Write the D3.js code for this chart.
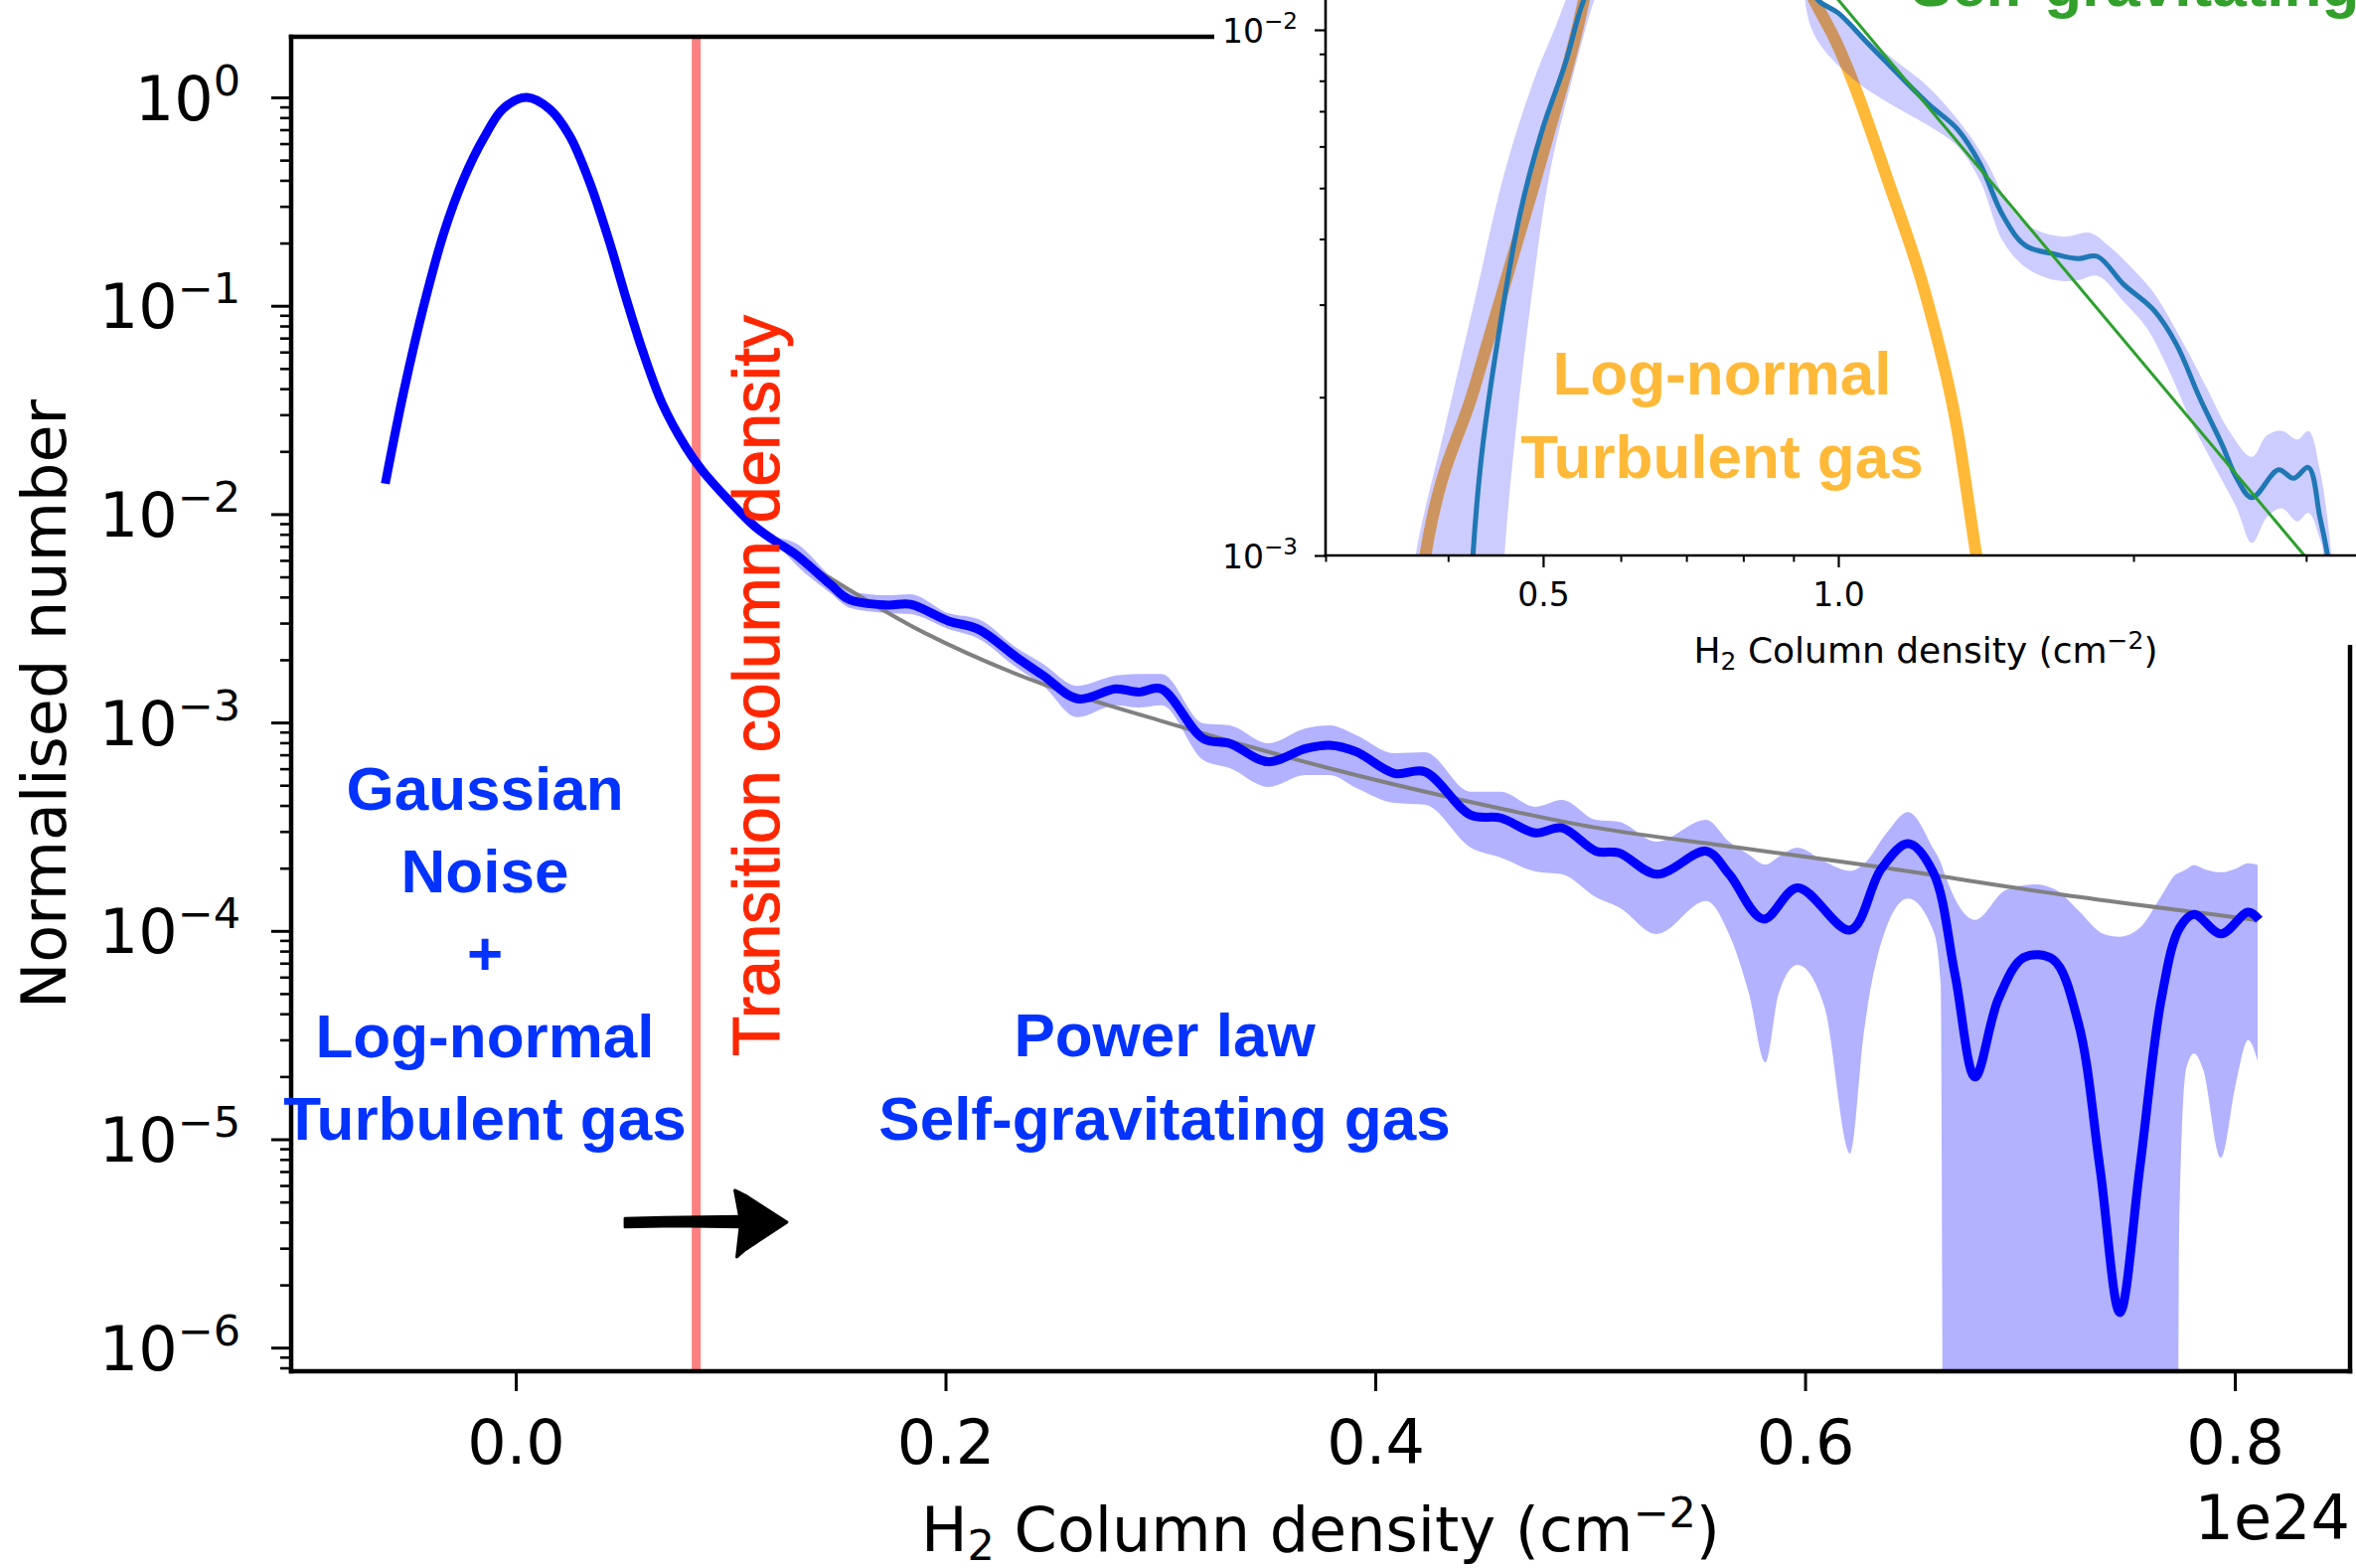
<!DOCTYPE html>
<html><head><meta charset="utf-8">
<script src="https://cdn.jsdelivr.net/npm/d3@7"></script>
<style>body{margin:0;background:#fff}svg{display:block} text{white-space:pre}</style>
</head><body>
<script>
// ---------------- MAIN PANEL DATA (x in units of 1e24 cm^-2) ----------------
const mainX = [-0.0607,-0.0519,-0.0427,-0.0334,-0.0242,-0.0149,-0.0057,0.0051,0.0159,0.0251,0.0344,0.0436,0.0513,0.0591,0.0683,0.0791,0.0868,0.0991,0.1114,0.1199,0.1305,0.1465,0.1553,0.1730,0.1836,0.2013,0.2154,0.2332,0.2455,0.2615,0.2792,0.2898,0.3004,0.3199,0.3323,0.3500,0.3676,0.3789,0.3912,0.4089,0.4231,0.4443,0.4585,0.4744,0.4868,0.5028,0.5133,0.5311,0.5540,0.5647,0.5806,0.5965,0.6210,0.6354,0.6480,0.6597,0.6698,0.6791,0.6900,0.7018,0.7153,0.7271,0.7372,0.7465,0.7558,0.7658,0.7742,0.7810,0.7936,0.8062,0.8113];
const mainY = [0.0140,0.0396,0.1008,0.2246,0.4064,0.6373,0.886,1.0,0.877,0.654,0.392,0.203,0.109,0.0606,0.0337,0.0210,0.0162,0.01167,0.00871,0.00752,0.00638,0.00459,0.00389,0.00366,0.00369,0.00307,0.00280,0.00205,0.00168,0.00130,0.00145,0.00140,0.00145,0.000837,0.000793,0.000648,0.000750,0.000778,0.000723,0.000570,0.000580,0.000360,0.000348,0.000295,0.000312,0.000241,0.000237,0.000187,0.000241,0.000187,0.000114,0.000161,0.000101,0.000198,0.000262,0.000190,6.14e-5,1.99e-5,4.72e-5,7.45e-5,7.30e-5,3.64e-5,7.31e-6,1.47e-6,7.31e-6,4.72e-5,0.000103,0.000120,9.68e-5,0.000123,0.000113];

const bandX  = [0.1207,0.1304,0.1465,0.1554,0.1729,0.1836,0.2012,0.2155,0.2331,0.2455,0.2613,0.2793,0.2899,0.3006,0.3200,0.3323,0.3501,0.3676,0.3787,0.3912,0.4088,0.4231,0.4444,0.4583,0.4745,0.4869,0.5027,0.5133,0.5309,0.5540,0.5646,0.5739,0.5815,0.5877,0.5965,0.6090,0.6210,0.6275,0.6377,0.6479,0.6599,0.6631,0.6650,0.6791,0.6934,0.7069,0.7170,0.7269,0.7390,0.7464,0.7556,0.7658,0.7727,0.7741,0.7773,0.7810,0.7852,0.7935,0.8005,0.8062,0.8106];
const bandHi = [7.72e-3,7.25e-3,5.03e-3,4.27e-3,4.08e-3,4.13e-3,3.35e-3,3.13e-3,2.28e-3,1.91e-3,1.50e-3,1.68e-3,1.71e-3,1.71e-3,9.90e-4,9.68e-4,7.95e-4,9.37e-4,9.68e-4,8.69e-4,7.13e-4,7.20e-4,4.65e-4,4.65e-4,3.94e-4,4.25e-4,3.41e-4,3.34e-4,2.68e-4,3.41e-4,2.68e-4,2.32e-4,2.08e-4,2.27e-4,2.51e-4,2.15e-4,1.94e-4,2.10e-4,2.93e-4,3.72e-4,2.46e-4,2.13e-4,1.87e-4,1.13e-4,1.57e-4,1.67e-4,1.57e-4,1.26e-4,9.66e-5,9.38e-5,1.03e-4,1.47e-4,1.87e-4,1.90e-4,1.97e-4,2.07e-4,1.99e-4,1.91e-4,1.99e-4,2.11e-4,2.07e-4];
const bandLo = [7.39e-3,5.72e-3,4.17e-3,3.55e-3,3.35e-3,3.31e-3,2.81e-3,2.52e-3,1.83e-3,1.50e-3,1.06e-3,1.21e-3,1.18e-3,1.21e-3,6.60e-4,6.04e-4,4.91e-4,5.60e-4,5.60e-4,4.85e-4,4.11e-4,4.03e-4,2.51e-4,2.25e-4,1.93e-4,1.87e-4,1.45e-4,1.30e-4,9.66e-5,1.39e-4,9.66e-5,5.00e-5,2.34e-5,5.00e-5,6.87e-5,4.33e-5,8.53e-6,3.33e-5,1.03e-4,1.43e-4,9.87e-5,5.57e-5,1e-9,1e-9,1e-9,1e-9,1e-9,1e-9,1e-9,1e-9,1e-9,1e-9,1e-9,3.83e-6,2.17e-5,2.58e-5,2.17e-5,8.16e-6,1.86e-5,2.99e-5,2.37e-5];

const fitX = [0.1305,0.1447,0.19,0.2437,0.30,0.3783,0.44,0.5027,0.57,0.6354,0.72,0.8097];
const fitY = [6.2e-3,5.04e-3,2.70e-3,1.55e-3,1.02e-3,6.04e-4,4.25e-4,3.13e-4,2.50e-4,2.02e-4,1.49e-4,1.13e-4];

const transitionX = 0.084;
const xTickValues = [0, 0.2, 0.4, 0.6, 0.8];
const yTickExponents = [0, -1, -2, -3, -4, -5, -6];

// ---------------- INSET DATA (log-log) ----------------
const insetBlueX = [0.4217,0.4240,0.4331,0.4487,0.4732,0.4992,0.5263,0.5502,0.5711,0.62,0.85,0.9216,0.9530,1.0,1.080,1.233,1.323,1.395,1.472,1.552,1.665,1.757,1.837,1.954,2.098,2.213,2.333,2.460,2.549,2.641,2.811,2.912,3.016,3.098,3.154,3.18];
const insetBlueY = [0.0008,0.000998,0.001570,0.002518,0.004434,0.006468,0.008586,0.0114,0.01298,0.03,0.03,0.01298,0.0114,0.01076,0.00929,0.00725,0.00647,0.00556,0.00443,0.003886,0.003741,0.003671,0.003707,0.003279,0.002928,0.002518,0.002007,0.001631,0.001402,0.001288,0.001456,0.001402,0.001470,0.001183,0.001,0.000837];

const insetOrangeX = [0.3735,0.3792,0.4255,0.4651,0.5080,0.5502,0.60,0.75,0.9447,0.9963,1.128,1.233,1.323,1.383,1.40];
const insetOrangeY = [0.000837,0.001,0.002084,0.00367,0.00647,0.0114,0.03,0.03,0.01140,0.00943,0.00506,0.00304,0.001726,0.001,0.00087];

const insetGreenX = [0.9434, 3.288];
const insetGreenY = [0.01298, 0.000808];

const insetBandUpperX = [0.355,0.3706,0.3963,0.4255,0.4567,0.4902,0.5172,0.5387,0.58,0.88,0.9324,0.9616,1.128,1.233,1.347,1.420,1.497,1.579,1.696,1.804,1.886,1.989,2.098,2.252,2.375,2.504,2.641,2.736,2.835,2.938,3.016,3.098,3.183,3.25];
const insetBandUpperY = [0.0005,0.001,0.001725,0.00304,0.005355,0.00811,0.01037,0.01298,0.03,0.03,0.01298,0.01140,0.00891,0.00781,0.00647,0.00556,0.00460,0.00419,0.00404,0.00411,0.003886,0.003535,0.003158,0.002518,0.002084,0.001725,0.00154,0.001693,0.001725,0.001662,0.001725,0.001456,0.001,0.0005];
const insetBandLowerX = [0.450,0.4567,0.4690,0.4859,0.5080,0.5358,0.5601,0.5779,0.62,0.85,0.9150,0.9447,1.032,1.128,1.233,1.323,1.395,1.472,1.552,1.665,1.757,1.837,1.954,2.061,2.174,2.292,2.416,2.549,2.641,2.736,2.835,2.938,3.016,3.098,3.126,3.18];
const insetBandLowerY = [0.0005,0.001,0.001725,0.00304,0.005355,0.00811,0.01097,0.01298,0.03,0.03,0.01298,0.00980,0.00811,0.00724,0.00659,0.0060,0.00516,0.00396,0.003535,0.00334,0.00334,0.003404,0.00304,0.002714,0.002247,0.001792,0.001484,0.001229,0.001056,0.001183,0.001229,0.001161,0.001206,0.001076,0.001,0.0005];

const insetXMajor = [0.5, 1.0];
const insetXMinor = [0.3,0.4,0.6,0.7,0.8,0.9,2,3];
const insetYExponents = [-2, -3];

// ---------------- DRAWING ----------------
const W = 2371, H = 1578;
const P = {left: 293, right: 2365, top: 37, bottom: 1380};
const AX_FONT = "'DejaVu Sans', sans-serif";
const ANN_FONT = "'Liberation Sans', Arial, Helvetica, sans-serif";
const sup = e => (e < 0 ? '\u2212' + (-e) : String(e));

const svg = d3.select('body').append('svg').attr('width', W).attr('height', H);
svg.append('rect').attr('width', W).attr('height', H).attr('fill', '#fff');
const defs = svg.append('defs');
defs.append('clipPath').attr('id', 'mainClip').append('rect')
  .attr('x', P.left).attr('y', P.top).attr('width', P.right - P.left).attr('height', P.bottom - P.top);

const x = d3.scaleLinear().domain([-0.1045, 0.8536]).range([P.left, P.right]);
const y = d3.scaleLog().domain([7.7e-7, 1.954]).range([P.bottom, P.top]);

const main = svg.append('g').attr('clip-path', 'url(#mainClip)');

// transition line
main.append('line')
  .attr('x1', x(transitionX)).attr('x2', x(transitionX))
  .attr('y1', P.top).attr('y2', P.bottom)
  .attr('stroke', '#ff8080').attr('stroke-width', 9);

// band
const bandData = bandX.map((v, i) => ({x: v, lo: bandLo[i], hi: bandHi[i]}));
main.append('path').datum(bandData)
  .attr('d', d3.area().curve(d3.curveMonotoneX)
    .x(d => x(d.x)).y0(d => y(d.lo)).y1(d => y(d.hi)))
  .attr('fill', '#0000ff').attr('fill-opacity', 0.3);

// power-law fit
main.append('path').datum(fitX.map((v, i) => [v, fitY[i]]))
  .attr('d', d3.line().curve(d3.curveCatmullRom.alpha(0.5)).x(d => x(d[0])).y(d => y(d[1])))
  .attr('fill', 'none').attr('stroke', '#808080').attr('stroke-width', 4);

// main curve
main.append('path').datum(mainX.map((v, i) => [v, mainY[i]]))
  .attr('d', d3.line().curve(d3.curveCatmullRom.alpha(0.5)).x(d => x(d[0])).y(d => y(d[1])))
  .attr('fill', 'none').attr('stroke', '#0000ff').attr('stroke-width', 9)
  .attr('stroke-linejoin', 'round');

// ---- main axes ----
const yMajor = yTickExponents.map(e => Math.pow(10, e));
const yMinor = [];
for (let e = -7; e <= 0; e++) for (let m = 2; m <= 9; m++) {
  const v = m * Math.pow(10, e);
  if (v >= 7.7e-7 && v <= 1.954) yMinor.push(v);
}
const gyMinor = svg.append('g').attr('transform', `translate(${P.left},0)`)
  .call(d3.axisLeft(y).tickValues(yMinor).tickSize(11).tickFormat(''));
gyMinor.select('.domain').remove();
gyMinor.selectAll('.tick line').attr('stroke', '#000').attr('stroke-width', 2.6);

const gy = svg.append('g').attr('transform', `translate(${P.left},0)`)
  .call(d3.axisLeft(y).tickValues(yMajor).tickSize(20).tickPadding(31).tickFormat(''));
gy.select('.domain').remove();
gy.attr('font-family', AX_FONT).attr('font-size', 62);
gy.selectAll('.tick line').attr('stroke', '#000').attr('stroke-width', 3);
gy.selectAll('.tick text').each(function(d) {
  const t = d3.select(this).attr('dy', 22).attr('fill', '#000');
  t.text(null);
  t.append('tspan').text('10');
  t.append('tspan').attr('font-size', 43).attr('dy', -25).text(sup(Math.round(Math.log10(d))));
});

const gx = svg.append('g').attr('transform', `translate(0,${P.bottom})`)
  .call(d3.axisBottom(x).tickValues(xTickValues).tickSize(20).tickPadding(29).tickFormat(d3.format('.1f')));
gx.select('.domain').remove();
gx.attr('font-family', AX_FONT).attr('font-size', 62);
gx.selectAll('.tick line').attr('stroke', '#000').attr('stroke-width', 3);
gx.selectAll('.tick text').attr('fill', '#000');

// spines
const spines = svg.append('g').attr('stroke', '#000').attr('stroke-width', 4.5).attr('stroke-linecap', 'square');
spines.append('line').attr('x1', P.left).attr('x2', P.left).attr('y1', P.top).attr('y2', P.bottom);
spines.append('line').attr('x1', P.left).attr('x2', P.right).attr('y1', P.bottom).attr('y2', P.bottom);
spines.append('line').attr('x1', P.left).attr('x2', P.right).attr('y1', P.top).attr('y2', P.top);
spines.append('line').attr('x1', P.right).attr('x2', P.right).attr('y1', P.top).attr('y2', P.bottom);

// axis labels
svg.append('text').attr('transform', `translate(66,${(P.top + P.bottom) / 2}) rotate(-90)`)
  .attr('text-anchor', 'middle').attr('font-family', AX_FONT).attr('font-size', 62)
  .text('Normalised number');
const xl = svg.append('text').attr('x', (P.left + P.right) / 2).attr('y', 1561)
  .attr('text-anchor', 'middle').attr('font-family', AX_FONT).attr('font-size', 62);
xl.append('tspan').text('H');
xl.append('tspan').attr('font-size', 43).attr('dy', 9).text('2');
xl.append('tspan').attr('dy', -9).text(' Column density (cm');
xl.append('tspan').attr('font-size', 43).attr('dy', -24).text('\u22122');
xl.append('tspan').attr('dy', 24).text(')');
svg.append('text').attr('x', P.right).attr('y', 1549).attr('text-anchor', 'end')
  .attr('font-family', AX_FONT).attr('font-size', 62).text('1e24');

// annotations
const blueTxt = '#0433ff';
const leftLines = ['Gaussian', 'Noise', '+', 'Log-normal', 'Turbulent gas'];
leftLines.forEach((s, i) => {
  svg.append('text').attr('x', 488).attr('y', 815 + i * 83).attr('text-anchor', 'middle')
    .attr('font-family', ANN_FONT).attr('font-weight', 'bold').attr('font-size', 62)
    .attr('fill', blueTxt).text(s);
});
['Power law', 'Self-gravitating gas'].forEach((s, i) => {
  svg.append('text').attr('x', 1172).attr('y', 1063 + i * 84).attr('text-anchor', 'middle')
    .attr('font-family', ANN_FONT).attr('font-weight', 'bold').attr('font-size', 62)
    .attr('fill', blueTxt).text(s);
});
svg.append('text').attr('transform', 'translate(784,690) rotate(-90)')
  .attr('text-anchor', 'middle').attr('font-family', ANN_FONT).attr('font-size', 66)
  .attr('fill', '#ff2600').attr('stroke', '#ff2600').attr('stroke-width', 1)
  .text('Transition column density');

// arrow (sketchy look)
const ay = y(4.0e-6), ax0 = x(0.0508), axb = x(0.1020), axt = x(0.1262);
const arrow = svg.append('g').attr('fill', '#000').attr('stroke', '#000').attr('stroke-linejoin', 'round');
arrow.append('path').attr('stroke-width', 2.5)
  .attr('d', `M${ax0},${ay - 4} L${ax0 + 40},${ay - 5} L${axb + 6},${ay - 6} L${axb + 6},${ay + 5} L${ax0 + 50},${ay + 4} L${ax0},${ay + 5} Z`);
arrow.append('path').attr('stroke-width', 3)
  .attr('d', `M${axb},${ay - 32} L${axb + 12},${ay - 26} L${axt},${ay} L${axb + 10},${ay + 28} L${axb + 2},${ay + 35} L${axb + 6},${ay} Z`);

// ---------------- INSET ----------------
svg.append('rect').attr('x', 1222).attr('y', 0).attr('width', W - 1222).attr('height', 649).attr('fill', '#fff');

const IX0 = 1334, IY0 = 559;
const ix = d3.scaleLog().domain([0.3, 1.0]).range([IX0, 1850]);
const iy = d3.scaleLog().domain([1e-3, 1e-2]).range([IY0, 30]);
defs.append('clipPath').attr('id', 'insetClip').append('rect')
  .attr('x', IX0).attr('y', -300).attr('width', 1200).attr('height', IY0 + 300);
const inset = svg.append('g').attr('clip-path', 'url(#insetClip)');

const iline = d3.line().curve(d3.curveMonotoneX).x(d => ix(d[0])).y(d => iy(d[1]));

inset.append('path').datum(insetOrangeX.map((v, i) => [v, insetOrangeY[i]]))
  .attr('d', iline).attr('fill', 'none').attr('stroke', '#ffb938').attr('stroke-width', 12);

const upPts = insetBandUpperX.map((v, i) => [ix(v), iy(insetBandUpperY[i])]);
const loPts = insetBandLowerX.map((v, i) => [ix(v), iy(insetBandLowerY[i])]).reverse();
inset.append('path')
  .attr('d', d3.line().curve(d3.curveCatmullRom.alpha(0.5))(upPts.concat(loPts)) + 'Z')
  .attr('fill', '#0000ff').attr('fill-opacity', 0.2);

inset.append('path').datum(insetBlueX.map((v, i) => [v, insetBlueY[i]]))
  .attr('d', d3.line().curve(d3.curveCatmullRom.alpha(0.5)).x(d => ix(d[0])).y(d => iy(d[1])))
  .attr('fill', 'none').attr('stroke', '#1f77b4').attr('stroke-width', 5);

inset.append('path').datum(insetGreenX.map((v, i) => [v, insetGreenY[i]]))
  .attr('d', d3.line().x(d => ix(d[0])).y(d => iy(d[1])))
  .attr('fill', 'none').attr('stroke', '#2ca02c').attr('stroke-width', 3);

// inset texts
['Log-normal', 'Turbulent gas'].forEach((s, i) => {
  svg.append('text').attr('x', 1733).attr('y', 397 + i * 84).attr('text-anchor', 'middle')
    .attr('font-family', ANN_FONT).attr('font-weight', 'bold').attr('font-size', 62)
    .attr('fill', '#ffb938').text(s);
});
svg.append('text').attr('x', 1923).attr('y', 6)
  .attr('font-family', ANN_FONT).attr('font-weight', 'bold').attr('font-size', 62)
  .attr('fill', '#33a02c').text('Self-gravitating gas');

// inset axes
const iyMinor = [];
for (let m = 2; m <= 9; m++) iyMinor.push(m * 1e-3);
const giyMin = svg.append('g').attr('transform', `translate(${IX0},0)`)
  .call(d3.axisLeft(iy).tickValues(iyMinor).tickSize(6).tickFormat(''));
giyMin.select('.domain').remove();
giyMin.selectAll('.tick line').attr('stroke', '#000').attr('stroke-width', 2);

const giy = svg.append('g').attr('transform', `translate(${IX0},0)`)
  .call(d3.axisLeft(iy).tickValues(insetYExponents.map(e => Math.pow(10, e))).tickSize(11).tickPadding(17).tickFormat(''));
giy.select('.domain').remove();
giy.attr('font-family', AX_FONT).attr('font-size', 33);
giy.selectAll('.tick line').attr('stroke', '#000').attr('stroke-width', 2.2);
giy.selectAll('.tick text').each(function(d) {
  const t = d3.select(this).attr('dy', 12).attr('fill', '#000');
  t.text(null);
  t.append('tspan').text('10');
  t.append('tspan').attr('font-size', 23).attr('dy', -14).text(sup(Math.round(Math.log10(d))));
});

const gixMin = svg.append('g').attr('transform', `translate(0,${IY0})`)
  .call(d3.axisBottom(ix).tickValues(insetXMinor).tickSize(6.5).tickFormat(''));
gixMin.select('.domain').remove();
gixMin.selectAll('.tick line').attr('stroke', '#000').attr('stroke-width', 2);

const gix = svg.append('g').attr('transform', `translate(0,${IY0})`)
  .call(d3.axisBottom(ix).tickValues(insetXMajor).tickSize(12).tickPadding(16).tickFormat(d3.format('.1f')));
gix.select('.domain').remove();
gix.attr('font-family', AX_FONT).attr('font-size', 33);
gix.selectAll('.tick line').attr('stroke', '#000').attr('stroke-width', 2.2);
gix.selectAll('.tick text').attr('fill', '#000');

const isp = svg.append('g').attr('stroke', '#000').attr('stroke-width', 2.6);
isp.append('line').attr('x1', IX0).attr('x2', IX0).attr('y1', 0).attr('y2', IY0 + 1.3);
isp.append('line').attr('x1', IX0 - 1.3).attr('x2', W).attr('y1', IY0).attr('y2', IY0);

const ixl = svg.append('text').attr('x', 1938).attr('y', 667).attr('text-anchor', 'middle')
  .attr('font-family', AX_FONT).attr('font-size', 36);
ixl.append('tspan').text('H');
ixl.append('tspan').attr('font-size', 25).attr('dy', 7).text('2');
ixl.append('tspan').attr('dy', -7).text(' Column density (cm');
ixl.append('tspan').attr('font-size', 25).attr('dy', -14).text('\u22122');
ixl.append('tspan').attr('dy', 14).text(')');
</script>
</body></html>
